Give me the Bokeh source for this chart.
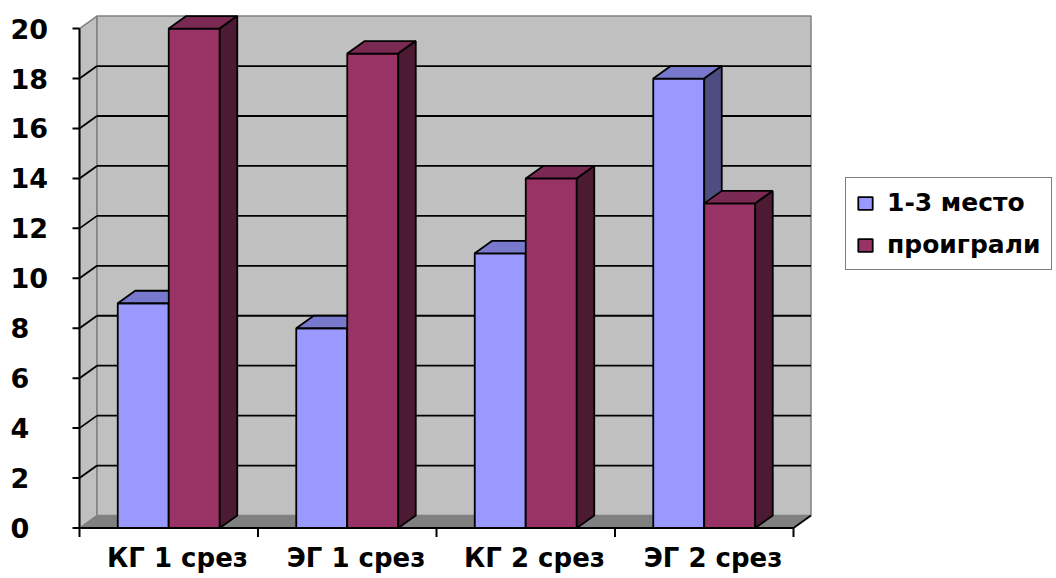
from bokeh.plotting import figure
from bokeh.models import Range1d, ColumnDataSource, Legend, LegendItem
from bokeh.core.properties import value
from bokeh.embed import file_html
from bokeh.resources import INLINE

# ---- data ----
categories = ["КГ 1 срез", "ЭГ 1 срез", "КГ 2 срез", "ЭГ 2 срез"]
places_1_3 = [9, 8, 11, 18]
lost = [20, 19, 14, 13]
series_names = ["1-3 место", "проиграли"]
y_ticks = [0, 2, 4, 6, 8, 10, 12, 14, 16, 18, 20]

# ---- layout of the pseudo-3D chart ----
W, H = 1056, 578
SX = 178.5          # px per category
SY = 24.97          # px per value unit
X0_PX, Y0_PX = 79, 527.5
DX = 17.5 / SX      # depth offset (x, data units)
DY = 12.5 / SY      # depth offset (y, data units)
BAR_W = 1 / 3.5     # gap width 150%
GAP = 0.75 / 3.5
Y_MAX = 20

FONT = value("DejaVu Sans")

p = figure(width=W, height=H, output_backend="svg", toolbar_location=None,
           x_axis_type=None, y_axis_type=None, min_border=0,
           x_range=Range1d(-X0_PX / SX, (W - X0_PX) / SX),
           y_range=Range1d(-(H - Y0_PX) / SY, Y0_PX / SY),
           outline_line_color=None, background_fill_color="white")

n = len(categories)

# walls: left side wall, back wall and floor
p.patch([0, 0, DX, DX], [0, Y_MAX, Y_MAX + DY, DY],
        fill_color="#C0C0C0", line_color="#808080", line_width=1.5)
p.patch([DX, DX, n + DX, n + DX], [DY, Y_MAX + DY, Y_MAX + DY, DY],
        fill_color="#C0C0C0", line_color="#808080", line_width=1.5)
p.patch([0, n, n + DX, DX], [0, 0, DY, DY],
        fill_color="#808080", line_color="#808080", line_width=1)

# gridlines on back wall and side wall
inner = [t for t in y_ticks if 0 < t < Y_MAX]
p.segment(x0=[DX] * len(inner), y0=[t + DY for t in inner],
          x1=[n + DX] * len(inner), y1=[t + DY for t in inner],
          line_color="black", line_width=1.8)
p.segment(x0=[0] * len(inner), y0=inner,
          x1=[DX] * len(inner), y1=[t + DY for t in inner],
          line_color="black", line_width=1.8)
# floor right edge
p.segment(x0=[n], y0=[0], x1=[n + DX], y1=[DY], line_color="black", line_width=1.8)

# bars: front face, top face and right side face of each column
colors = [
    dict(front="#9999FF", top="#7878CC", side="#4D4D80"),
    dict(front="#993366", top="#7A2952", side="#4D1A33"),
]
front_renderers = []
for s, vals in enumerate([places_1_3, lost]):
    left = [i + GAP + s * BAR_W for i in range(n)]
    right = [l + BAR_W for l in left]
    src = ColumnDataSource(dict(left=left, right=right, top=vals, bottom=[0] * n))
    c = colors[s]
    r = p.quad(left="left", right="right", top="top", bottom="bottom", source=src,
               fill_color=c["front"], line_color="black", line_width=1.8)
    front_renderers.append(r)
    top_xs = [[l, r_, r_ + DX, l + DX] for l, r_ in zip(left, right)]
    top_ys = [[v, v, v + DY, v + DY] for v in vals]
    p.patches(top_xs, top_ys, fill_color=c["top"], line_color="black", line_width=1.8)
    side_xs = [[r_, r_ + DX, r_ + DX, r_] for r_ in right]
    side_ys = [[0, DY, v + DY, v] for v in vals]
    p.patches(side_xs, side_ys, fill_color=c["side"], line_color="black", line_width=1.8)

# value axis
tick_len = 7 / SX
p.segment(x0=[0], y0=[0], x1=[0], y1=[Y_MAX], line_color="black", line_width=2)
p.segment(x0=[-tick_len] * len(y_ticks), y0=y_ticks, x1=[0] * len(y_ticks), y1=y_ticks,
          line_color="black", line_width=2)
p.text(x=[(10 - X0_PX) / SX] * len(y_ticks), y=y_ticks, text=[str(t) for t in y_ticks],
       text_font=FONT, text_font_style="bold", text_font_size="27px",
       text_align="left", text_baseline="middle", text_color="black")

# category axis
xt = list(range(n + 1))
down = 9 / SY
p.segment(x0=[0], y0=[0], x1=[n], y1=[0], line_color="black", line_width=2)
p.segment(x0=xt, y0=[0] * len(xt), x1=xt, y1=[-down] * len(xt),
          line_color="black", line_width=2)
p.text(x=[i + 0.5 + DX / 2 for i in range(n)], y=[-(557 - Y0_PX) / SY] * n, text=categories,
       text_font=FONT, text_font_style="bold", text_font_size="26px",
       text_align="center", text_baseline="middle", text_color="black")

legend = Legend(items=[LegendItem(label=series_names[0], renderers=[front_renderers[0]]),
                       LegendItem(label=series_names[1], renderers=[front_renderers[1]])],
                location=(845, H - 270), margin=0, padding=10, spacing=13,
                label_standoff=13, glyph_width=18, glyph_height=16,
                label_text_font="DejaVu Sans", label_text_font_style="bold",
                label_text_font_size="25px", label_height=28, label_text_color="black",
                border_line_color="black", border_line_width=1.5,
                background_fill_color="white", background_fill_alpha=1)
p.add_layout(legend)

open("out.html", "w").write(file_html(p, INLINE))
